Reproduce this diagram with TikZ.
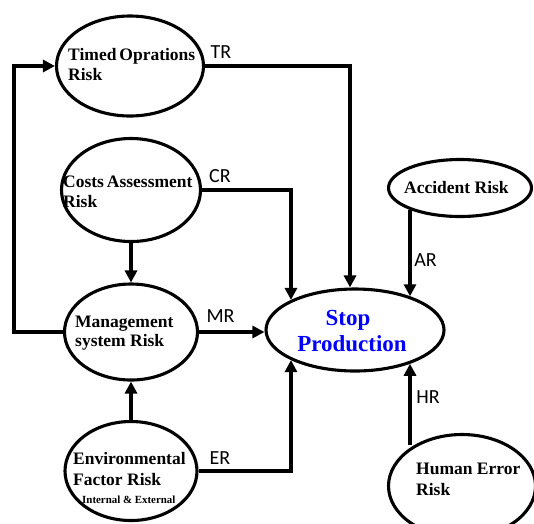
\documentclass[tikz,border=0pt]{standalone}
\usepackage{fontspec}
\setmainfont{Liberation Serif}
\newfontfamily\labfont{Carlito}
\usetikzlibrary{arrows.meta,shapes.geometric}
\begin{document}
\begin{tikzpicture}[x=1pt,y=-1pt,
  riskell/.style={draw,ellipse,line width=3.1pt,inner sep=0pt},
  arr/.style={line width=3.2pt,-{Triangle[length=12pt,width=12pt]}},
  txt/.style={font=\fontsize{17.5}{20}\selectfont\bfseries,inner sep=0pt,anchor=base west},
  smalltxt/.style={font=\fontsize{10.9}{12}\selectfont\bfseries,inner sep=0pt,anchor=base west},
  bluetxt/.style={font=\fontsize{23}{26}\selectfont\bfseries,text=blue,inner sep=0pt,anchor=base},
  lab/.style={font=\labfont\fontsize{20}{22}\selectfont,inner sep=0pt}]
\useasboundingbox (0,0) rectangle (534,523);
% ellipses
\node[riskell,minimum width=147pt,minimum height=100pt] (t) at (130,66) {};
\node[riskell,minimum width=139pt,minimum height=103pt] (c) at (131,190) {};
\node[riskell,minimum width=133pt,minimum height=96pt] (m) at (131,332) {};
\node[riskell,minimum width=132pt,minimum height=99pt] (e) at (131,471) {};
\node[riskell,minimum width=178pt,minimum height=82pt] (s) at (355,330) {};
\node[riskell,minimum width=143pt,minimum height=57pt] (a) at (460,188) {};
\node[riskell,minimum width=147pt,minimum height=103pt] (h) at (462,486) {};
% texts
\node[txt] (t1) at (68,60) {Timed\,Oprations};
\node[txt] (t2) at (68,80) {Risk};
\node[txt] (c1) at (63,187) {Costs\,Assessment};
\node[txt] (c2) at (63,207) {Risk};
\node[txt] (m1) at (75,327) {Management};
\node[txt] (m2) at (75,346) {system Risk};
\node[txt] (e1) at (73,464) {Environmental};
\node[txt] (e2) at (73,485) {Factor Risk};
\node[smalltxt] (e3) at (82,503) {Internal \& External};
\node[bluetxt] (s1) at (348,325) {Stop};
\node[bluetxt] (s2) at (352,351) {Production};
\node[txt] (a1) at (404,193) {Accident Risk};
\node[txt] (h1) at (416,474) {Human Error};
\node[txt] (h2) at (416,495) {Risk};
% labels
\node[lab] (lTR) at (221,52) {TR};
\node[lab] (lCR) at (220,176) {CR};
\node[lab] (lMR) at (220.5,316.5) {MR};
\node[lab] (lER) at (220,458) {ER};
\node[lab] (lAR) at (425.5,260) {AR};
\node[lab] (lHR) at (428,397) {HR};
% connectors
\draw[arr] (t.east) -| ([xshift=-5pt]s.north);
\draw[arr] (c.east) -| (s.north west);
\draw[arr] (m.east) -- (m.east -| s.west);
\draw[arr] (e.east) -| (s.south west);
\draw[arr] ([xshift=-50pt,yshift=8pt]a.south) -- ([xshift=55pt,yshift=-8.8pt]s.north);
\draw[arr] ([xshift=-52pt,yshift=-12pt]h.north) -- ([xshift=55pt,yshift=8.8pt]s.south);
\draw[arr] (c.south) -- (m.north);
\draw[arr] (e.north) -- (m.south);
\coordinate (loop) at (14,332);
\draw[arr] (m.west) -- (loop) |- (t.west);
\end{tikzpicture}
\end{document}
